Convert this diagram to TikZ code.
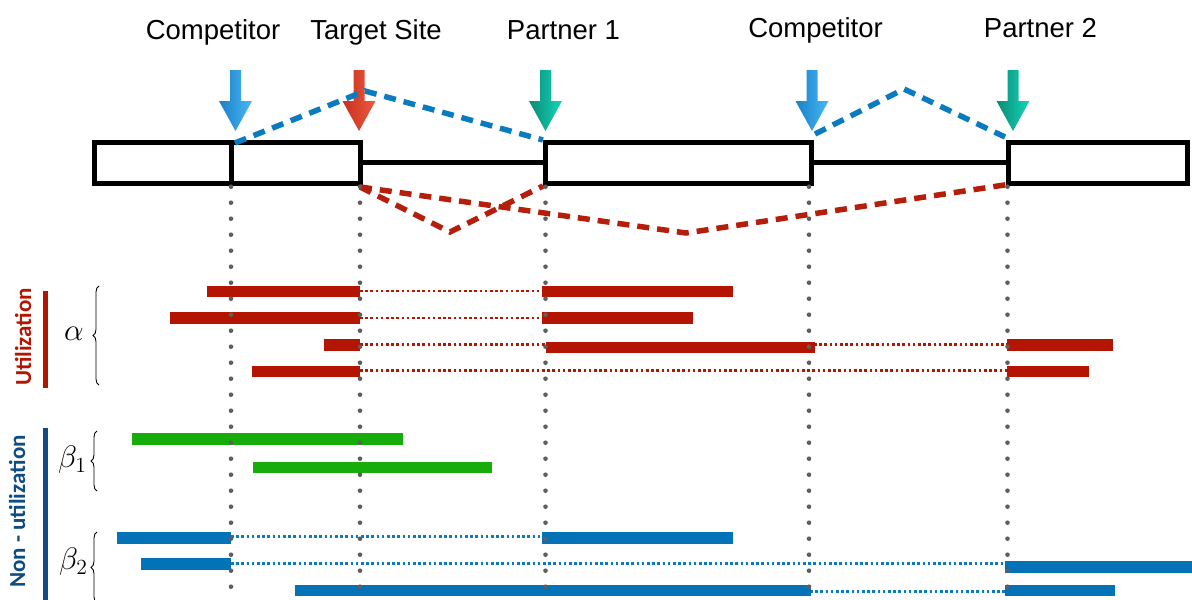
\documentclass[tikz,border=0pt]{standalone}
\usepackage{graphicx}
\usepackage[no-math]{fontspec}
\setmainfont{Liberation Sans}
\newfontfamily\carl{Carlito}
\usetikzlibrary{decorations.pathreplacing}
\definecolor{ured}{HTML}{B41500}
\definecolor{dred}{HTML}{B41E0A}
\definecolor{ugreen}{HTML}{16AD0A}
\definecolor{ublue}{HTML}{0472B6}
\definecolor{dblue}{HTML}{0B7BC0}
\definecolor{vgray}{HTML}{5E5E5E}
\definecolor{nblue}{HTML}{0F4C81}
\definecolor{arrBa}{HTML}{1A80CA}
\definecolor{arrBb}{HTML}{48B8F2}
\definecolor{arrRa}{HTML}{C8301E}
\definecolor{arrRb}{HTML}{EC5A40}
\definecolor{arrTa}{HTML}{0B8A76}
\definecolor{arrTb}{HTML}{14D6B8}
\newcommand{\sitearrow}[3]{%
  \shade[left color=#2,right color=#3] (#1-5.5,70) -- (#1+5.5,70) -- (#1+5.5,101) -- (#1+16.5,101) -- (#1,131) -- (#1-16.5,101) -- (#1-5.5,101) -- cycle;}
\newcommand{\bigmath}[1]{\scalebox{1.5}{$#1$}}
\begin{document}
\begin{tikzpicture}[x=1pt,y=-1pt,
  lbl/.style={font=\fontsize{27.5}{30}\selectfont, anchor=base, inner sep=0pt},
  side/.style={font=\carl\bfseries\fontsize{23}{26}\selectfont, rotate=90, anchor=base, inner sep=0pt},
  greek/.style={font=\fontsize{20}{24}\selectfont, inner sep=0pt},
  bar/.style={line width=11.5pt},
  rbar/.style={bar, draw=ured},
  gbar/.style={bar, draw=ugreen},
  bbar/.style={bar, draw=ublue},
  rdot/.style={draw=ured, line width=2.6pt, dash pattern=on 2.6pt off 2.6pt},
  bdot/.style={draw=dblue, line width=2.6pt, dash pattern=on 2.6pt off 2.6pt},
  vdots/.style={draw=vgray, line width=4.6pt, line cap=round, dash pattern=on 0pt off 16pt},
  exon/.style={draw=black, line width=5pt, fill=white},
  intron/.style={draw=black, line width=4.5pt},
  bdash/.style={draw=dblue, line width=5.5pt, dash pattern=on 12pt off 8pt},
  rdash/.style={draw=dred, line width=5.5pt, dash pattern=on 12pt off 8pt},
  brc/.style={draw=black, line width=0.9pt, decorate, decoration={brace, amplitude=6pt}}
]
\useasboundingbox (0,0) rectangle (1192,600);

% labels
\node[lbl] (lc1) at (213,39) {Competitor};
\node[lbl] (lts) at (376,39) {Target Site};
\node[lbl] (lp1) at (563.5,39) {Partner 1};
\node[lbl] (lc2) at (815.5,37) {Competitor};
\node[lbl] (lp2) at (1040.5,37) {Partner 2};

% exons and introns
\coordinate (i1a) at (360,162.5);
\coordinate (i1b) at (545,162.5);
\coordinate (i2a) at (811,162.5);
\coordinate (i2b) at (1008,162.5);
\draw[intron] (i1a) -- (i1b);
\draw[intron] (i2a) -- (i2b);
\draw[exon] (94.5,142.5) rectangle (360,183);
\draw[exon] (231,142.5) -- (231,183);
\draw[exon] (545,142.5) rectangle (811,183);
\draw[exon] (1008,142.5) rectangle (1187,183);

% arrows
\sitearrow{235.5}{arrBa}{arrBb}
\sitearrow{359}{arrRa}{arrRb}
\sitearrow{545.5}{arrTa}{arrTb}
\sitearrow{812}{arrBa}{arrBb}
\sitearrow{1013}{arrTa}{arrTb}

% splicing paths
\coordinate (b1s) at (235,143);
\coordinate (b1p) at (365,91);
\coordinate (b1e) at (543,140);
\coordinate (b2s) at (815,134);
\coordinate (b2p) at (904,89);
\coordinate (b2e) at (1005,137);
\draw[bdash] (b1s) -- (b1p) -- (b1e);
\draw[bdash] (b2s) -- (b2p) -- (b2e);
\coordinate (r1s) at (360,187);
\coordinate (r1p) at (450,232);
\coordinate (r1e) at (543,186);
\coordinate (r2p) at (686,233);
\coordinate (r2e) at (1011,184);
\draw[rdash] (r1s) -- (r1p) -- (r1e);
\draw[rdash] (r1s) -- (r2p) -- (r2e);

% side labels
\node[side, text=ured] (ut) at (31,337) {Utilization};
\fill[ured] (42.5,290.5) rectangle (47.5,388);
\node[side, text=nblue] (nu) at (25,511.5) {Non - utilization};
\fill[nblue] (43,428) rectangle (48,600);

% greek and braces
\node[greek] (al) at (74,334) {\bigmath{\alpha}};
\draw[brc] (99,385) -- (99,286);
\node[greek] (b1) at (72.5,460) {\bigmath{\beta_1}};
\draw[brc] (97,491) -- (97,431);
\node[greek] (b2) at (73.5,562) {\bigmath{\beta_2}};
\draw[brc] (97,603) -- (97,532);

% utilization bars
\draw[rdot] (360,291) -- (545,291);
\draw[rbar] (207,291.5) -- (360,291.5);
\draw[rbar] (542,291.5) -- (733,291.5);
\draw[rdot] (360,318) -- (545,318);
\draw[rbar] (170,318) -- (360,318);
\draw[rbar] (542,318) -- (693,318);
\draw[rdot] (360,344.3) -- (545,344.3);
\draw[rdot] (814,344.3) -- (1008,344.3);
\draw[rbar] (324,345) -- (360,345);
\draw[rbar] (545.5,347.5) -- (814.5,347.5);
\draw[rbar] (1007,345) -- (1112.5,345);
\draw[rdot] (360,370.7) -- (1008,370.7);
\draw[rbar] (252,371.5) -- (360,371.5);
\draw[rbar] (1007,371.5) -- (1088.5,371.5);

% non-utilization beta1
\draw[gbar] (132,439) -- (403,439);
\draw[gbar] (253,467.5) -- (492,467.5);

% non-utilization beta2
\draw[bdot] (231,536.7) -- (545,536.7);
\draw[bbar] (117,538) -- (231,538);
\draw[bbar] (542,538) -- (733,538);
\draw[bdot] (231,563.3) -- (1005,563.3);
\draw[bbar] (141,564) -- (231,564);
\draw[bbar] (1004.7,567) -- (1192,567);
\draw[bdot] (810,591.7) -- (1005,591.7);
\draw[bbar] (295,590.5) -- (810.6,590.5);
\draw[bbar] (1004.7,590.5) -- (1115,590.5);

% vertical dotted guides
\coordinate (v1) at (231,186.7);
\coordinate (v2) at (360,186.7);
\coordinate (v3) at (545.5,186.7);
\coordinate (v4) at (809,186.7);
\coordinate (v5) at (1007.5,186.7);
\foreach \v in {v1,v2,v3,v4,v5} {
  \draw[vdots] (\v) -- ([yshift=-420pt]\v);
}
\end{tikzpicture}
\end{document}
